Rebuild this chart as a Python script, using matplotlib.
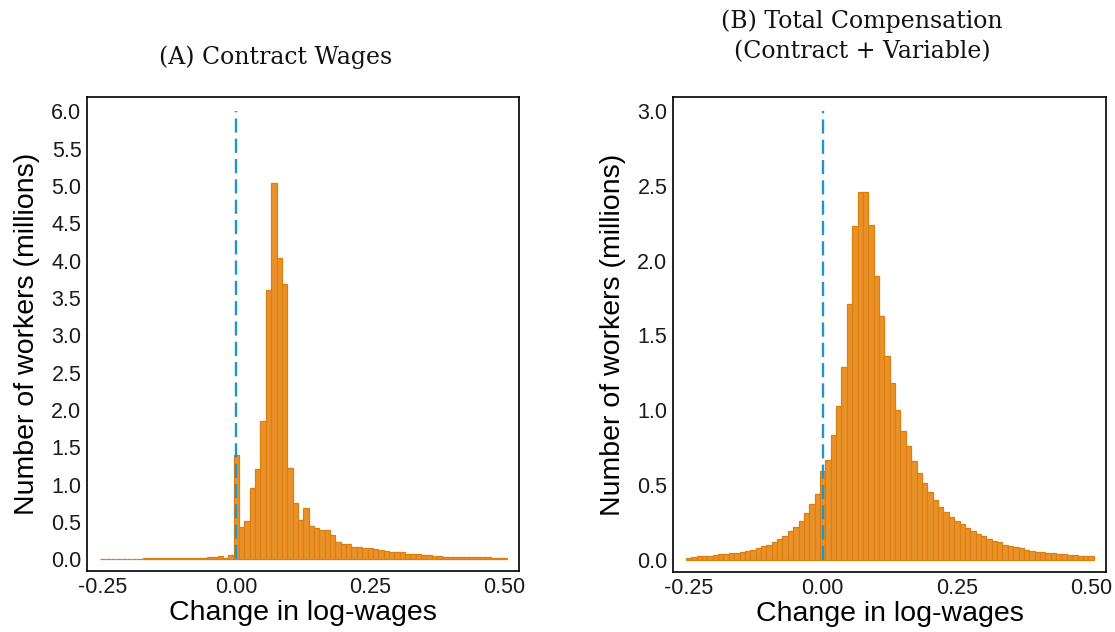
import numpy as np
import matplotlib
matplotlib.use("Agg")
import matplotlib.pyplot as plt

# Histogram bins: width 0.01, centred on -0.25, -0.24, ..., 0.50
bin_width = 0.01
bin_centers = np.round(np.arange(-25, 51) * bin_width, 2)

# Panel A: contract wages (millions of workers per bin)
contract_counts = [
    0.006, 0.006, 0.006, 0.006, 0.006, 0.006, 0.006, 0.006,
    0.012, 0.012, 0.012, 0.012, 0.012, 0.012, 0.012, 0.012, 0.012, 0.012, 0.012, 0.012,
    0.025, 0.028, 0.045, 0.022, 0.055,
    1.39, 0.43, 0.51, 0.955, 1.205, 1.85, 3.61, 5.04, 4.03, 3.68,
    1.22, 0.75, 0.53, 0.69, 0.45, 0.42, 0.39, 0.39, 0.33, 0.23,
    0.21, 0.20, 0.17, 0.16, 0.15, 0.15, 0.134, 0.125, 0.116, 0.094,
    0.094, 0.094, 0.071, 0.071, 0.071, 0.058, 0.058, 0.045, 0.045, 0.036,
    0.036, 0.036, 0.036, 0.027, 0.027, 0.027, 0.027, 0.027, 0.013, 0.013,
    0.013,
]

# Panel B: total compensation (contract + variable)
total_counts = [
    0.013, 0.02, 0.022, 0.025, 0.027, 0.031, 0.036, 0.038, 0.042, 0.047,
    0.054, 0.06, 0.067, 0.08, 0.094, 0.10, 0.12, 0.14, 0.16, 0.19,
    0.22, 0.26, 0.31, 0.37, 0.44,
    0.59, 0.665, 0.83, 1.03, 1.29, 1.71, 2.23, 2.46, 2.46, 2.24,
    1.90, 1.63, 1.36, 1.18, 1.00, 0.86, 0.76, 0.66, 0.58, 0.51,
    0.45, 0.40, 0.355, 0.32, 0.285, 0.26, 0.235, 0.21, 0.19, 0.17,
    0.155, 0.14, 0.125, 0.115, 0.10, 0.09, 0.083, 0.075, 0.067, 0.06,
    0.054, 0.05, 0.047, 0.042, 0.04, 0.038, 0.034, 0.031, 0.027, 0.027,
    0.027,
]

x_ticks = [-0.25, 0.00, 0.25, 0.50]
x_ticklabels = ["-0.25", "0.00", "0.25", "0.50"]
yticks_a = np.round(np.arange(0, 6.01, 0.5), 1)
yticks_b = np.round(np.arange(0, 3.01, 0.5), 1)

title_a = "(A) Contract Wages"
title_b = "(B) Total Compensation\n(Contract + Variable)"
xlabel = "Change in log-wages"
ylabel = "Number of workers (millions)"

bar_fill = "#E9922B"
bar_edge = "#E07E0C"
ref_color = "#1F96C8"

W, H = 1115, 632
fig = plt.figure(figsize=(W / 100, H / 100), dpi=100)
fig.patch.set_facecolor("white")

sans = ["Liberation Sans", "DejaVu Sans"]
serif = ["DejaVu Serif"]


def px_axes(left, top, right, bottom):
    return fig.add_axes([left / W, 1 - bottom / H, (right - left) / W, (bottom - top) / H])


def draw_panel(ax, counts, yticks, ylim, vline_top):
    ax.bar(bin_centers, counts, width=bin_width, color=bar_fill,
           edgecolor=bar_edge, linewidth=0.9, zorder=2)
    ax.vlines(0.0, 0.0, vline_top, colors=ref_color, linestyles=(0, (6, 2.6)),
              linewidth=1.7, zorder=3)
    ax.set_xlim(-0.279, 0.528)
    ax.set_ylim(*ylim)
    ax.set_xticks(x_ticks)
    ax.set_xticklabels(x_ticklabels, fontfamily=sans, fontsize=15.5)
    ax.set_yticks(yticks)
    ax.set_yticklabels([f"{v:.1f}" for v in yticks], fontfamily=sans, fontsize=15.5)
    ax.tick_params(length=0, pad=4, colors="#1a1a1a")
    ax.set_xlabel(xlabel, fontfamily=sans, fontsize=20.5, labelpad=2)
    ax.set_ylabel(ylabel, fontfamily=sans, fontsize=20.5, labelpad=8)
    for sp in ax.spines.values():
        sp.set_color("black")
        sp.set_linewidth(1.2)


ax_a = px_axes(87, 97, 519, 571)
draw_panel(ax_a, contract_counts, yticks_a, (-0.157, 6.19), 6.0)

ax_b = px_axes(673, 97, 1106, 572)
draw_panel(ax_b, total_counts, yticks_b, (-0.083, 3.094), 3.0)

fig.text(276 / W, 1 - 57 / H, title_a, ha="center", va="center",
         fontfamily=serif, fontsize=17, color="#111111")
fig.text(862 / W, 1 - 36 / H, title_b, ha="center", va="center",
         fontfamily=serif, fontsize=17, color="#111111", linespacing=1.4)

fig.savefig("out.png", dpi=100, facecolor="white")
